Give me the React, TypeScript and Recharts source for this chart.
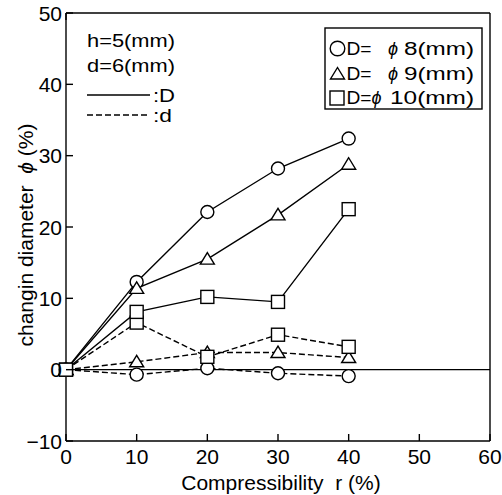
import React from 'react';
import { LineChart, Line, XAxis, YAxis, ReferenceLine, Label } from 'recharts';

// compressibility r (%)
const compress = [0, 10, 20, 30, 40];
// changing diameter (%) of D, solid lines
const d8Outer = [0, 12.3, 22.1, 28.2, 32.4];
const d9Outer = [0, 11.4, 15.5, 21.7, 28.8];
const d10Outer = [0, 8.1, 10.2, 9.5, 22.5];
// changing diameter (%) of d, dashed lines
const d8Inner = [0, -0.7, 0.2, -0.5, -0.9];
const d9Inner = [0, 1.1, 2.4, 2.4, 1.7];
const d10Inner = [0, 6.6, 1.8, 4.9, 3.2];

const xTicks = [0, 10, 20, 30, 40, 50, 60];
const yTicks = [-10, 0, 10, 20, 30, 40, 50];

const data = compress.map((r, i) => ({
    r,
    d8D: d8Outer[i],
    d9D: d9Outer[i],
    d10D: d10Outer[i],
    d8d: d8Inner[i],
    d9d: d9Inner[i],
    d10d: d10Inner[i],
}));

const FONT = '"Liberation Sans", Arial, sans-serif';
const TICK = 7;
const SW = 1.4;
const PHI = '\u03D5';

const fmt = (v: number) => (v < 0 ? `\u2212${Math.abs(v)}` : `${v}`);

const CircleDot = (p: any) => (
    <circle key={`c${p.index}`} cx={p.cx} cy={p.cy} r={6.5} fill="#fff" stroke="#000" strokeWidth={SW} />
);
const TriDot = (p: any) => (
    <polygon
        key={`t${p.index}`}
        points={`${p.cx},${p.cy - 6.5} ${p.cx - 7},${p.cy + 5} ${p.cx + 7},${p.cy + 5}`}
        fill="#fff"
        stroke="#000"
        strokeWidth={SW}
    />
);
const SquareDot = (p: any) => (
    <rect key={`s${p.index}`} x={p.cx - 6.5} y={p.cy - 6.5} width={13} height={13} fill="#fff" stroke="#000" strokeWidth={SW} />
);

const BottomTick = ({ x, y, payload }: any) => (
    <g>
        <line x1={x} x2={x} y1={y - 8} y2={y - 8 - TICK} stroke="#000" strokeWidth={SW} />
        <text x={x} y={y + 15} textAnchor="middle" fontSize={21} fontFamily={FONT} fill="#000">
            {fmt(payload.value)}
        </text>
    </g>
);
const LeftTick = ({ x, y, payload }: any) => (
    <g>
        <line x1={x + 4} x2={x + 4 + TICK} y1={y} y2={y} stroke="#000" strokeWidth={SW} />
        <text x={x} y={y + 7.5} textAnchor="end" fontSize={21} fontFamily={FONT} fill="#000">
            {fmt(payload.value)}
        </text>
    </g>
);
const TopTick = ({ x, y }: any) => <line x1={x} x2={x} y1={y} y2={y + TICK} stroke="#000" strokeWidth={SW} />;
const RightTick = ({ x, y }: any) => <line x1={x} x2={x - TICK} y1={y} y2={y} stroke="#000" strokeWidth={SW} />;

const XTitle = ({ viewBox }: any) => (
    <text
        x={viewBox.x + viewBox.width / 2 + 3}
        y={viewBox.y + 49}
        textAnchor="middle"
        fontSize={21}
        fontFamily={FONT}
        fill="#000"
        style={{ whiteSpace: 'pre' }}
    >
        {'Compressibility  r (%)'}
    </text>
);
const YTitle = ({ viewBox }: any) => {
    const cx = viewBox.x + 33;
    const cy = viewBox.y + viewBox.height / 2 + 8;
    return (
        <text
            x={cx}
            y={cy}
            transform={`rotate(-90 ${cx} ${cy})`}
            textAnchor="middle"
            fontSize={21}
            fontFamily={FONT}
            fill="#000"
            style={{ whiteSpace: 'pre' }}
        >
            {'changin diameter  '}
            <tspan fontStyle="italic">{PHI}</tspan>
            {' (%)'}
        </text>
    );
};

const Notes = () => (
    <svg width={502} height={495} style={{ position: 'absolute', left: 0, top: 0, pointerEvents: 'none' }}>
        <g fontFamily={FONT} fontSize={18} fill="#000">
            <text x={87} y={46.5} textLength={88} lengthAdjust="spacingAndGlyphs">h=5(mm)</text>
            <text x={87} y={71.5} textLength={88} lengthAdjust="spacingAndGlyphs">d=6(mm)</text>
            <line x1={87} x2={150} y1={95} y2={95} stroke="#000" strokeWidth={SW} />
            <text x={153} y={101.5} textLength={22} lengthAdjust="spacingAndGlyphs">:D</text>
            <line x1={87} x2={150} y1={115} y2={115} stroke="#000" strokeWidth={SW} strokeDasharray="6 3" />
            <text x={153} y={121.5} textLength={19} lengthAdjust="spacingAndGlyphs">:d</text>
        </g>
        <g transform="translate(325,28)" fontFamily={FONT} fontSize={18} fill="#000">
            <rect x={0} y={0} width={157} height={81} fill="#fff" stroke="#000" strokeWidth={SW} />
            <circle cx={12.5} cy={20.5} r={7.3} fill="#fff" stroke="#000" strokeWidth={SW} />
            <polygon points="12.5,39.5 5.5,51 19.5,51" fill="#fff" stroke="#000" strokeWidth={SW} />
            <rect x={5} y={63} width={14} height={14} fill="#fff" stroke="#000" strokeWidth={SW} />
            <text x={21.5} y={26.5} textLength={25} lengthAdjust="spacingAndGlyphs">D=</text>
            <text x={63} y={26.5} fontStyle="italic" textLength={14}>{PHI}</text>
            <text x={79} y={26.5} textLength={70} lengthAdjust="spacingAndGlyphs">8(mm)</text>
            <text x={21.5} y={51.5} textLength={25} lengthAdjust="spacingAndGlyphs">D=</text>
            <text x={63} y={51.5} fontStyle="italic" textLength={14}>{PHI}</text>
            <text x={79} y={51.5} textLength={70} lengthAdjust="spacingAndGlyphs">9(mm)</text>
            <text x={21.5} y={76} textLength={25} lengthAdjust="spacingAndGlyphs">D=</text>
            <text x={46.5} y={76} fontStyle="italic" textLength={14}>{PHI}</text>
            <text x={65} y={76} textLength={84} lengthAdjust="spacingAndGlyphs">10(mm)</text>
        </g>
    </svg>
);

const App: React.FC = () => (
    <div style={{ position: 'relative', width: 502, height: 495 }}>
        <style>{'body{margin:0}'}</style>
        <LineChart width={502} height={495} data={data} margin={{ top: 12, right: 11, bottom: 0, left: 0 }}>
            <XAxis
                dataKey="r"
                type="number"
                domain={[0, 60]}
                ticks={xTicks}
                height={54}
                tickSize={0}
                tickMargin={8}
                tickLine={false}
                tick={<BottomTick />}
                axisLine={{ stroke: '#000', strokeWidth: SW }}
                interval={0}
            >
                <Label content={<XTitle />} />
            </XAxis>
            <XAxis
                xAxisId="top"
                orientation="top"
                type="number"
                domain={[0, 60]}
                ticks={xTicks}
                height={1}
                tickSize={0}
                tickMargin={0}
                tickLine={false}
                tick={<TopTick />}
                axisLine={{ stroke: '#000', strokeWidth: SW }}
                interval={0}
            />
            <YAxis
                type="number"
                domain={[-10, 50]}
                ticks={yTicks}
                width={66}
                tickSize={0}
                tickMargin={4}
                tickLine={false}
                tick={<LeftTick />}
                axisLine={{ stroke: '#000', strokeWidth: SW }}
                interval={0}
            >
                <Label content={<YTitle />} />
            </YAxis>
            <YAxis
                yAxisId="right"
                orientation="right"
                type="number"
                domain={[-10, 50]}
                ticks={yTicks}
                width={1}
                tickSize={0}
                tickMargin={0}
                tickLine={false}
                tick={<RightTick />}
                axisLine={{ stroke: '#000', strokeWidth: SW }}
                interval={0}
            />
            <ReferenceLine y={0} stroke="#000" strokeWidth={SW} />
            <Line dataKey="d8d" stroke="#000" strokeWidth={SW} strokeDasharray="6 3" dot={CircleDot} isAnimationActive={false} />
            <Line dataKey="d9d" stroke="#000" strokeWidth={SW} strokeDasharray="6 3" dot={TriDot} isAnimationActive={false} />
            <Line dataKey="d10d" stroke="#000" strokeWidth={SW} strokeDasharray="6 3" dot={SquareDot} isAnimationActive={false} />
            <Line dataKey="d8D" stroke="#000" strokeWidth={SW} dot={CircleDot} isAnimationActive={false} />
            <Line dataKey="d9D" stroke="#000" strokeWidth={SW} dot={TriDot} isAnimationActive={false} />
            <Line dataKey="d10D" stroke="#000" strokeWidth={SW} dot={SquareDot} isAnimationActive={false} />
        </LineChart>
        <Notes />
    </div>
);

export default App;
